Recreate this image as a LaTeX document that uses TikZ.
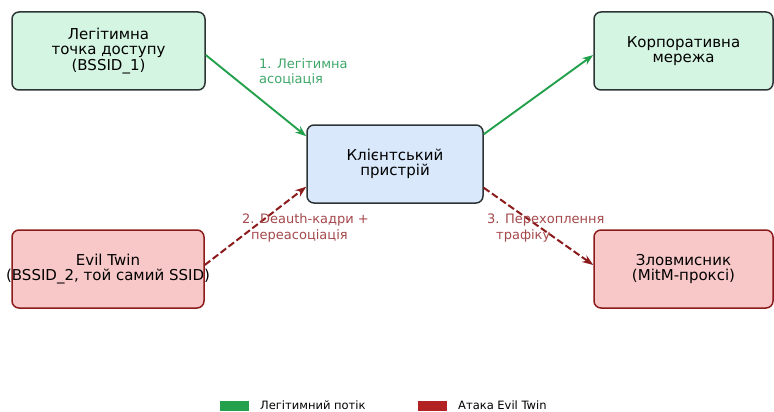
\documentclass[tikz,border=0pt]{standalone}
\usepackage{fontspec}
\setmainfont{DejaVu Sans}
\usetikzlibrary{arrows.meta,calc}
\definecolor{legitfill}{HTML}{D5F5E3}
\definecolor{clientfill}{HTML}{DAE8FC}
\definecolor{attackfill}{HTML}{F8C8C8}
\definecolor{boxline}{HTML}{2D3436}
\definecolor{attackline}{HTML}{8B1A1A}
\definecolor{legitflow}{HTML}{22A04B}
\definecolor{attackflow}{HTML}{B22222}
\definecolor{legittext}{HTML}{3FA768}
\definecolor{attacktext}{HTML}{A4484B}
\begin{document}
\begin{tikzpicture}[x=1pt,y=-1pt,
    box/.style={draw, rounded corners=7pt, line width=1.5pt, minimum height=78pt,
        align=center, inner sep=2pt, font=\fontsize{15}{15.5}\selectfont},
    legitbox/.style={box, draw=boxline, fill=legitfill},
    clientbox/.style={box, draw=boxline, fill=clientfill},
    attackbox/.style={box, draw=attackline, fill=attackfill},
    legitarrow/.style={-{Stealth[length=11pt,width=8pt]}, draw=legitflow, line width=1.9pt},
    attackarrow/.style={-{Stealth[length=11pt,width=8pt]}, draw=attackline, line width=2pt,
        dash pattern=on 7pt off 3pt},
    steplabel/.style={align=left, inner sep=0pt, font=\fontsize{13}{15.5}\selectfont},
    legendkey/.style={minimum width=29pt, minimum height=10pt, inner sep=0pt},
    legendtext/.style={anchor=west, inner sep=0pt, font=\fontsize{11.5}{13}\selectfont}]
    \useasboundingbox (0,0) rectangle (774,412);

    \node[legitbox, minimum width=193pt] (ap) at (108.5,51) {Легітимна\\точка доступу\\(BSSID\_1)};
    \node[clientbox, minimum width=176pt] (client) at (395,164) {Клієнтський\\пристрій};
    \node[legitbox, minimum width=179pt] (corp) at (683.5,51) {Корпоративна\\мережа};
    \node[attackbox, minimum width=192pt] (twin) at (108,269)
        {Evil Twin\\\makebox[0pt]{(BSSID\_2, той самий SSID)}};
    \node[attackbox, minimum width=179pt] (mitm) at (683.5,269) {Зловмисник\\(MitM-проксі)};

    \draw[legitarrow] ($(ap.east)+(0,4)$) -- ($(client.north west)+(0,12)$);
    \draw[legitarrow] ($(client.north east)+(0,10)$) -- ($(corp.west)+(0,4)$);
    \draw[attackarrow] ($(twin.east)+(0,-4)$) -- ($(client.south west)+(0,-17)$);
    \draw[attackarrow] ($(client.south east)+(0,-16)$) -- ($(mitm.west)+(0,-4)$);

    \node[steplabel, text=legittext, anchor=west] (s1) at (259,72) {1. Легітимна\\асоціація};
    \node[steplabel, text=attacktext, anchor=west] (s2) at (242,228)
        {2. Deauth-кадри +\\\hspace*{9pt}переасоціація};
    \node[steplabel, text=attacktext, anchor=west] (s3) at (487,228)
        {3. Перехоплення\\\hspace*{9pt}трафіку};

    \node[legendkey, fill=legitflow] (kgreen) at (234.5,405.5) {};
    \node[legendtext] (tgreen) at (260,405.5) {Легітимний потік};
    \node[legendkey, fill=attackflow] (kred) at (432.5,405.5) {};
    \node[legendtext] (tred) at (458,405.5) {Атака Evil Twin};
\end{tikzpicture}
\end{document}
